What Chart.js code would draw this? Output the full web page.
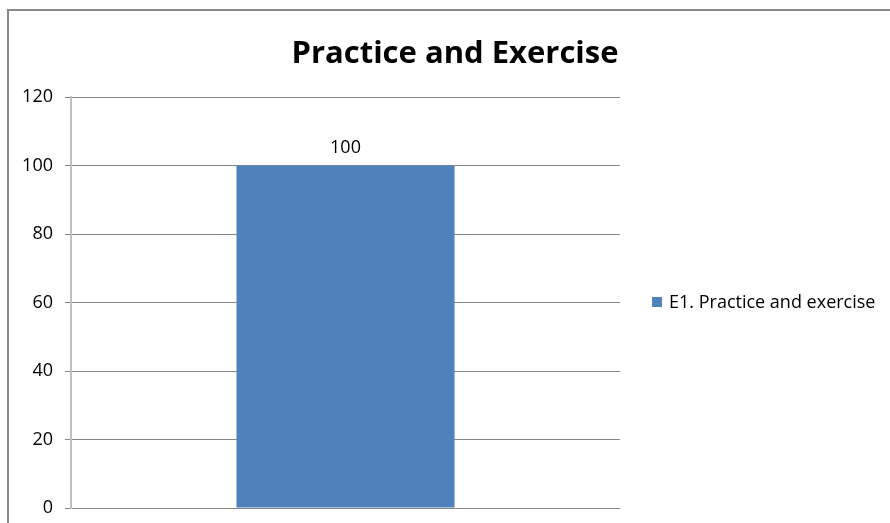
<!DOCTYPE html>
<html><head><meta charset="utf-8">
<script src="https://cdn.jsdelivr.net/npm/chart.js@4"></script>
<style>html,body{margin:0;padding:0;background:#fff;}#c{display:block;}</style>
</head><body>
<canvas id="c" width="890" height="523"></canvas>
<script>
const categories = ['E1. Practice and exercise'];
const seriesName = 'E1. Practice and exercise';
const values = [100];
const titleText = 'Practice and Exercise';
const yTicks = [0, 20, 40, 60, 80, 100, 120];

const FONT = '"Open Sans", "Liberation Sans", sans-serif';
const BLUE = '#4f81bd';

const decor = {
  id: 'decor',
  beforeDraw(chart) {
    const ctx = chart.ctx;
    ctx.save();
    ctx.fillStyle = '#fff';
    ctx.fillRect(0, 0, chart.width, chart.height);
    ctx.strokeStyle = '#898989';
    ctx.lineWidth = 2;
    ctx.beginPath();
    ctx.moveTo(8, 524); ctx.lineTo(8, 10); ctx.lineTo(892, 10);
    ctx.stroke();
    ctx.restore();
  },
  afterDraw(chart) {
    const ctx = chart.ctx;
    ctx.save();
    // title
    ctx.fillStyle = '#000';
    ctx.font = 'bold 31px ' + FONT;
    ctx.textAlign = 'center';
    ctx.textBaseline = 'alphabetic';
    ctx.fillText(titleText, 455, 63);
    // data labels
    const meta = chart.getDatasetMeta(0);
    ctx.font = '18px ' + FONT;
    meta.data.forEach((bar, i) => {
      ctx.fillText(String(values[i]), bar.x, bar.y - 13);
    });
    // legend
    ctx.fillStyle = BLUE;
    ctx.fillRect(652, 297, 10, 10);
    ctx.fillStyle = '#000';
    ctx.textAlign = 'left';
    ctx.font = '18px ' + FONT;
    ctx.fillText(seriesName, 669, 308);
    ctx.restore();
  }
};

new Chart(document.getElementById('c'), {
  type: 'bar',
  data: {
    labels: categories,
    datasets: [{
      label: seriesName,
      data: values,
      backgroundColor: BLUE,
      borderWidth: 0,
      categoryPercentage: 0.6,
      barPercentage: 0.662
    }]
  },
  options: {
    responsive: false,
    animation: false,
    layout: { padding: { left: 0, right: 270, top: 97, bottom: 15 } },
    plugins: { legend: { display: false }, title: { display: false }, tooltip: { enabled: false } },
    scales: {
      x: { display: false },
      y: {
        min: 0, max: 120,
        afterFit(s) { s.width = 71; s.paddingTop = 0; s.paddingBottom = 0; },
        afterBuildTicks(s) { s.ticks = yTicks.map(v => ({ value: v })); },
        ticks: { color: '#000', font: { family: FONT, size: 18 }, padding: 12 },
        grid: { color: '#868686', lineWidth: 1, tickLength: 6 },
        border: { color: '#bfbfbf', width: 2 }
      }
    }
  },
  plugins: [decor]
});
</script>
</body></html>
